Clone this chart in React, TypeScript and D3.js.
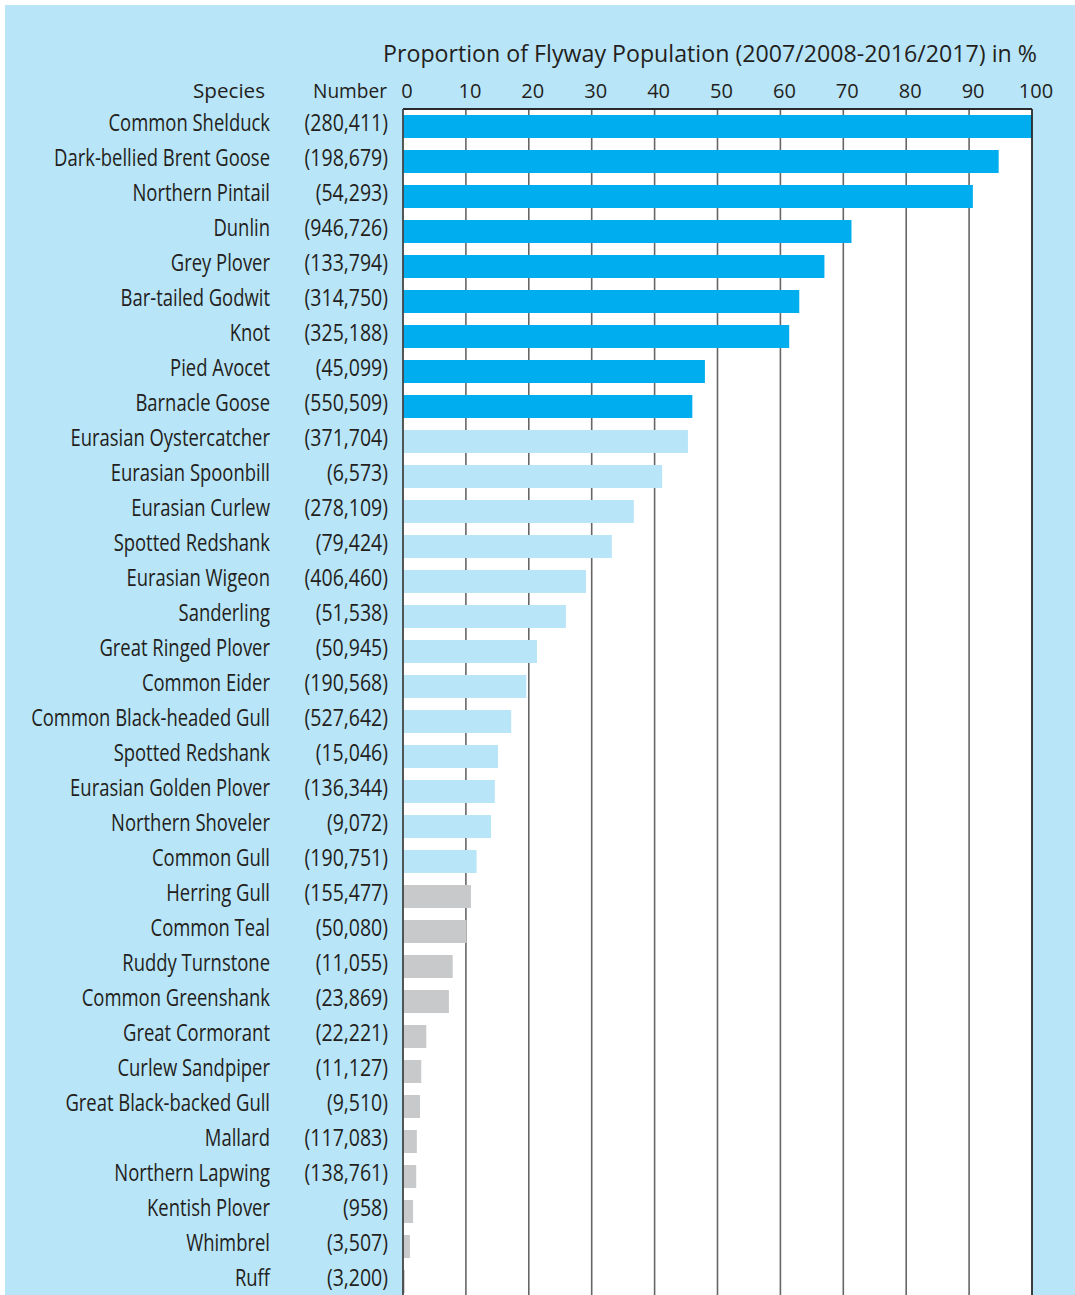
import React from "react";
import * as d3 from "d3";

const species = [
  "Common Shelduck", "Dark-bellied Brent Goose", "Northern Pintail", "Dunlin", "Grey Plover",
  "Bar-tailed Godwit", "Knot", "Pied Avocet", "Barnacle Goose", "Eurasian Oystercatcher",
  "Eurasian Spoonbill", "Eurasian Curlew", "Spotted Redshank", "Eurasian Wigeon", "Sanderling",
  "Great Ringed Plover", "Common Eider", "Common Black-headed Gull", "Spotted Redshank",
  "Eurasian Golden Plover", "Northern Shoveler", "Common Gull", "Herring Gull", "Common Teal",
  "Ruddy Turnstone", "Common Greenshank", "Great Cormorant", "Curlew Sandpiper",
  "Great Black-backed Gull", "Mallard", "Northern Lapwing", "Kentish Plover", "Whimbrel", "Ruff",
];

const numbers = [
  "(280,411)", "(198,679)", "(54,293)", "(946,726)", "(133,794)", "(314,750)", "(325,188)",
  "(45,099)", "(550,509)", "(371,704)", "(6,573)", "(278,109)", "(79,424)", "(406,460)",
  "(51,538)", "(50,945)", "(190,568)", "(527,642)", "(15,046)", "(136,344)", "(9,072)",
  "(190,751)", "(155,477)", "(50,080)", "(11,055)", "(23,869)", "(22,221)", "(11,127)",
  "(9,510)", "(117,083)", "(138,761)", "(958)", "(3,507)", "(3,200)",
];

const proportions = [
  100, 94.7, 90.6, 71.3, 67.0, 63.0, 61.4, 48.0, 46.0, 45.3, 41.2, 36.7, 33.2, 29.1, 25.9,
  21.3, 19.6, 17.2, 15.1, 14.6, 14.0, 11.7, 10.8, 10.1, 7.9, 7.3, 3.7, 2.9, 2.7, 2.2, 2.1,
  1.6, 1.1, 0.3,
];

const groups = [
  "high", "high", "high", "high", "high", "high", "high", "high", "high",
  "mid", "mid", "mid", "mid", "mid", "mid", "mid", "mid", "mid", "mid", "mid", "mid", "mid",
  "low", "low", "low", "low", "low", "low", "low", "low", "low", "low", "low", "low",
];

const ticks = [0, 10, 20, 30, 40, 50, 60, 70, 80, 90, 100];

const groupColors: Record<string, string> = {
  high: "#00aeef",
  mid: "#b9e5f9",
  low: "#c8c9cb",
};

const FONT = "'Open Sans', 'Noto Sans', sans-serif";
const SX_LABEL = 0.785;
const SX_NUM = 0.83;

export default function App() {
  const W = 1075;
  const H = 1295;
  const x = d3.scaleLinear().domain([0, 100]).range([403, 1032]);
  const y = d3
    .scaleBand<number>()
    .domain(d3.range(species.length))
    .range([109, 109 + 35 * species.length])
    .paddingInner(12 / 35)
    .paddingOuter(6 / 35);
  const plotTop = 109;
  const plotBottom = H;
  const textColor = "#231f20";
  const rowY = (i: number) => (y(i) as number) + y.bandwidth() / 2 + 4;

  return (
    <svg
      width={W}
      height={H}
      style={{ position: "absolute", left: 0, top: 0, display: "block", background: "#ffffff" }}
    >
      <rect x={5} y={5} width={W - 5} height={H - 5} fill="#b9e5f9" />
      <rect x={x(0)} y={plotTop} width={x(100) - x(0)} height={plotBottom - plotTop} fill="#ffffff" />
      {ticks.slice(1, -1).map((t) => (
        <line key={"g" + t} x1={x(t)} x2={x(t)} y1={plotTop} y2={plotBottom} stroke="#666666" strokeWidth={1.6} />
      ))}
      {proportions.map((v, i) => (
        <rect
          key={"b" + i}
          x={x(0)}
          y={y(i)}
          width={Math.max(0, x(v) - x(0))}
          height={y.bandwidth()}
          fill={groupColors[groups[i]]}
        />
      ))}
      <line x1={x(0)} x2={x(100)} y1={plotTop} y2={plotTop} stroke="#2a2a2a" strokeWidth={1.8} />
      <line x1={x(0)} x2={x(0)} y1={plotTop} y2={plotBottom} stroke="#444444" strokeWidth={1.8} />
      <line x1={x(100)} x2={x(100)} y1={plotTop} y2={plotBottom} stroke="#2a2a2a" strokeWidth={1.8} />

      <text x={383} y={62} fontFamily={FONT} fontSize={23} fill={textColor} textLength={654} lengthAdjust="spacingAndGlyphs">
        Proportion of Flyway Population (2007/2008-2016/2017) in %
      </text>
      <text x={193} y={98} fontFamily={FONT} fontSize={20} fill={textColor} textLength={72} lengthAdjust="spacingAndGlyphs">
        Species
      </text>
      <text x={313} y={98} fontFamily={FONT} fontSize={20} fill={textColor} textLength={74} lengthAdjust="spacingAndGlyphs">
        Number
      </text>
      {ticks.map((t) => (
        <text key={"t" + t} x={x(t) + 4} y={98} textAnchor="middle" fontFamily={FONT} fontSize={20} fill={textColor}>
          {t}
        </text>
      ))}
      {species.map((s, i) => (
        <g key={"s" + i} transform={`translate(270, ${rowY(i)}) scale(${SX_LABEL}, 1)`}>
          <text x={0} y={0} textAnchor="end" fontFamily={FONT} fontSize={23.5} fill={textColor}>
            {s}
          </text>
        </g>
      ))}
      {numbers.map((n, i) => (
        <g key={"n" + i} transform={`translate(388, ${rowY(i)}) scale(${SX_NUM}, 1)`}>
          <text x={0} y={0} textAnchor="end" fontFamily={FONT} fontSize={23.5} fill={textColor}>
            {n}
          </text>
        </g>
      ))}
    </svg>
  );
}
